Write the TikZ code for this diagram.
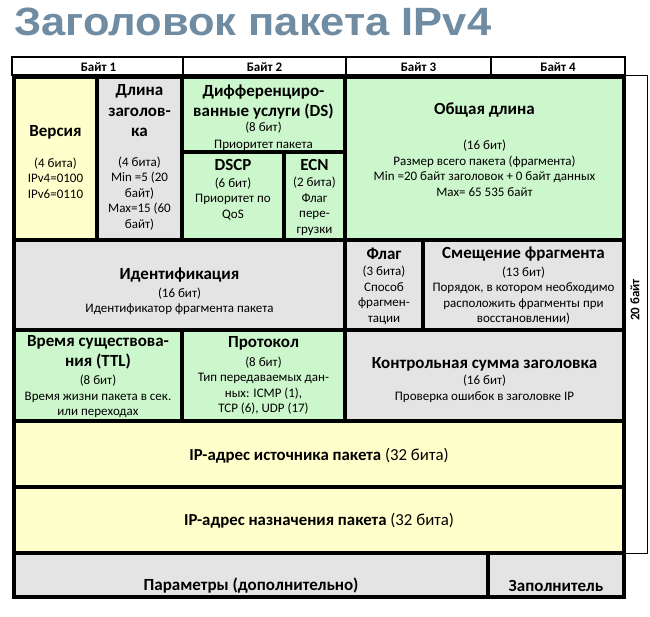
\documentclass[tikz,border=0pt]{standalone}
\usepackage{fontspec}
\setmainfont{Carlito}
\newfontfamily\headfont{Liberation Sans}
\usepackage{tikz}
\definecolor{fyellow}{HTML}{FFFFCC}
\definecolor{fgreen}{HTML}{CCF7CC}
\definecolor{fgrey}{HTML}{E4E4E4}
\definecolor{slate}{HTML}{6F8CA3}
\tikzset{fld/.style={draw=black,line width=3.5pt},
  hd/.style={font=\bfseries\fontsize{17}{20.5}\selectfont,align=center,inner sep=0pt},
  sub/.style={font=\fontsize{13}{15.5}\selectfont,align=center,inner sep=0pt},
  mid/.style={font=\fontsize{16.8}{19}\selectfont,inner sep=0pt},
  thinbox/.style={draw=black,line width=1.2pt},
  bt/.style={font=\bfseries\fontsize{13}{15}\selectfont,inner sep=0pt}}

\begin{document}
\begin{tikzpicture}[x=1pt,y=-1pt]
\useasboundingbox (0,0) rectangle (650,616);
\node[font=\headfont\bfseries\fontsize{39.5}{40}\selectfont,text=slate,anchor=base west,inner sep=0pt,xscale=1.1] (title) at (14,35) {Заголовок пакета IPv4};

\draw[thinbox] (12,57) rectangle (625,75);
\foreach \x in {183,346,491} \draw[thinbox] (\x,57) -- (\x,75);
\foreach \n/\x in {1/98.5,2/264.5,3/418.5,4/558} \node[bt] (b\n) at (\x,67) {Байт \n};
\draw[line width=0.8pt] (625,75) rectangle (647,553);
\node[bt,rotate=90] (len) at (635,300) {20 байт};

\foreach \a/\b/\c/\d/\f in {14/77/97/240/fyellow, 97/77/182/240/fgrey, 182/77/345/152/fgreen,
  182/152/284/240/fgreen, 284/152/345/240/fgreen, 345/77/624/240/fgreen,
  14/240/345/330/fgrey, 345/240/423/330/fgrey, 423/240/624/330/fgrey,
  14/330/182/421/fgreen, 182/330/345/421/fgreen, 345/330/624/421/fgrey,
  14/421/624/487/fyellow, 14/487/624/553/fyellow, 14/553/488/597/fgrey, 488/553/624/597/fgrey}
  \filldraw[fld,fill=\f] (\a,\b) rectangle (\c,\d);

\node[hd] (ver) at (55.5,132) {Версия};
\node[sub] (verd) at (55.5,178) {(4 бита)\\IPv4=0100\\IPv6=0110};
\node[hd] (ihl) at (139.5,111) {Длина\\заголов-\\ка};
\node[sub] (ihld) at (139.5,193.5) {(4 бита)\\Min =5 (20\\байт)\\Max=15 (60\\байт)};
\node[hd] (ds) at (263.5,102) {Дифференциро-\\ванные услуги (DS)};
\node[sub,font=\fontsize{13}{17.5}\selectfont] (dsd) at (263.5,136.5) {(8 бит)\\Приоритет пакета};
\node[hd] (dscp) at (233,165) {DSCP};
\node[sub] (dscpd) at (233,199) {(6 бит)\\Приоритет по\\QoS};
\node[hd] (ecn) at (314.5,165) {ECN};
\node[sub] (ecnd) at (314.5,206.5) {(2 бита)\\Флаг\\пере-\\грузки};
\node[hd] (tlen) at (484.5,110) {Общая длина};
\node[sub] (tlend) at (484.5,168.5) {(16 бит)\\Размер всего пакета (фрагмента)\\Min =20 байт заголовок + 0 байт данных\\Max= 65 535 байт};

\node[hd] (id) at (179.5,275) {Идентификация};
\node[sub] (idd) at (179.5,301.5) {(16 бит)\\Идентификатор фрагмента пакета};
\node[hd] (flg) at (384,254) {Флаг};
\node[sub] (flgd) at (384,295.5) {(3 бита)\\Способ\\фрагмен-\\тации};
\node[hd] (frag) at (523.5,254) {Смещение фрагмента};
\node[sub] (fragd) at (523.5,295.5) {(13 бит)\\Порядок, в котором необходимо\\расположить фрагменты при\\восстановлении)};

\node[hd] (ttl) at (98,352.5) {Время существова-\\ния (TTL)};
\node[sub] (ttld) at (98,396.5) {(8 бит)\\Время жизни пакета в сек.\\или переходах};
\node[hd] (proto) at (263.5,343) {Протокол};
\node[sub] (protod) at (263.5,385.75) {(8 бит)\\Тип передаваемых дан-\\ных: ICMP (1),\\TCP (6), UDP (17)};
\node[hd] (csum) at (484.5,364) {Контрольная сумма заголовка};
\node[sub] (csumd) at (484.5,389) {(16 бит)\\Проверка ошибок в заголовке IP};

\node[mid] (src) at (319,456) {\textbf{IP-адрес источника пакета} (32 бита)};
\node[mid] (dst) at (319,521) {\textbf{IP-адрес назначения пакета} (32 бита)};
\node[hd] (opt) at (251,586) {Параметры (дополнительно)};
\node[hd] (pad) at (556,586) {Заполнитель};
\end{tikzpicture}
\end{document}
